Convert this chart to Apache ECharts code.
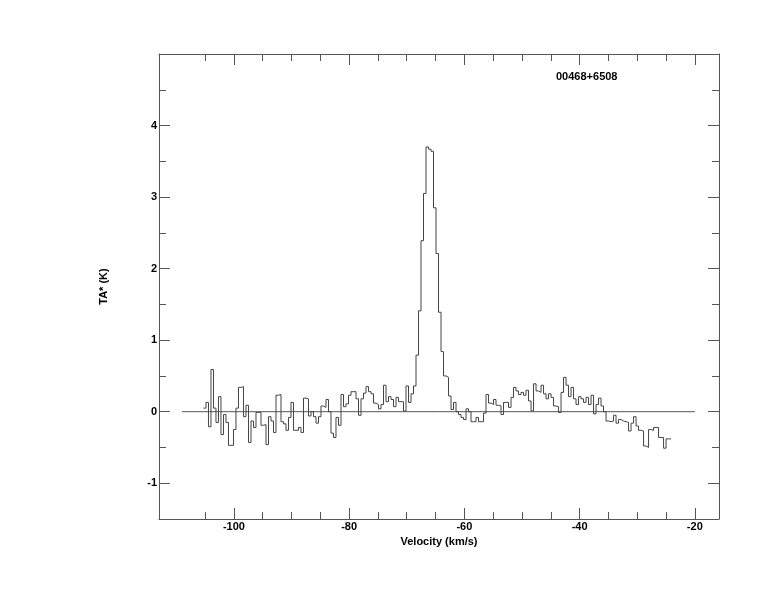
<!DOCTYPE html>
<html>
<head>
<meta charset="utf-8">
<script src="https://cdn.jsdelivr.net/npm/echarts@6/dist/echarts.min.js"></script>
<style>html,body{margin:0;padding:0;background:#fff;}#chart{width:774px;height:612px;}</style>
</head>
<body>
<div id="chart"></div>
<script>
// Spectrum data: antenna temperature per channel (K)
const sourceName = '00468+6508';
const velStart = -105.28;   // left edge of first channel (km/s)
const chanWidth = 0.434;    // channel width (km/s)
const ta = [
  0.05, 0.13, -0.21, 0.59, 0.05, -0.15, 0.21, -0.32, -0.04, -0.15,
  -0.47, -0.47, -0.25, 0.05, 0.34, 0.35, -0.07, 0.09, -0.43, -0.13,
  -0.22, -0.01, -0.01, -0.19, -0.18, -0.46, -0.07, -0.13, -0.29, 0.23,
  0.24, -0.14, -0.17, -0.26, -0.08, 0.13, -0.26, -0.26, -0.22, -0.29,
  0.19, 0.18, -0.06, 0.00, -0.07, -0.16, -0.07, 0.08, 0.06, 0.17,
  0.00, -0.30, -0.36, -0.08, -0.19, 0.24, 0.07, 0.11, 0.23, 0.28,
  0.28, 0.18, -0.05, 0.18, 0.26, 0.35, 0.28, 0.25, 0.12, 0.10,
  0.04, 0.10, 0.37, 0.14, 0.21, 0.17, 0.07, 0.20, 0.14, 0.14,
  0.01, 0.36, 0.13, 0.25, 0.36,
  0.79, 1.41, 2.39, 3.05, 3.70, 3.67, 3.64, 2.85, 2.21, 1.39, 0.84, 0.50, 0.48, 0.22,
  0.03, 0.13, 0.00, -0.04, -0.08, -0.11, 0.04, 0.00, -0.14, -0.14,
  -0.08, -0.14, -0.14, -0.02, 0.24, 0.12, 0.10, 0.17, 0.09, 0.08,
  -0.04, 0.13, 0.13, 0.06,
  0.20, 0.34, 0.29, 0.24, 0.27, 0.23, 0.30, 0.15, 0.01, 0.39,
  0.29, 0.27, 0.37, 0.25, 0.18, 0.25, 0.20, 0.08, 0.07, -0.01,
  0.27, 0.48, 0.37, 0.21, 0.34, 0.18, 0.10, 0.21, 0.18, 0.13,
  0.20, 0.10, 0.23, -0.03, 0.10, 0.19, 0.08, 0.00, -0.13, -0.14,
  -0.13, -0.05, -0.16, -0.11, -0.13, -0.14, -0.15, -0.27, -0.16, -0.07,
  -0.20, -0.26, -0.27,
  -0.48, -0.50, -0.25, -0.26, -0.22, -0.22, -0.36, -0.36, -0.51, -0.38, -0.38
];
const baselineX = [-109, -20];
const xMajorTicks = [-100, -80, -60, -40, -20];
const xMinorTicks = [-105, -95, -90, -85, -75, -70, -65, -55, -50, -45, -35, -30, -25];
const yMajorTicks = [-1, 0, 1, 2, 3, 4];
const yMinorTicks = [-0.5, 0.5, 1.5, 2.5, 3.5, 4.5];
const xRange = [-113.0, -15.8];
const yRange = [-1.5, 5];

const FONT = 'Liberation Sans';
const LINE = '#555';

const specData = ta.map((v, i) => [velStart + i * chanWidth, v]);
specData.push([velStart + ta.length * chanWidth, ta[ta.length - 1]]);

function xAx(pos, ticks, len, showLine, showLabel, name) {
  return {
    type: 'value', position: pos, min: xRange[0], max: xRange[1],
    axisLine: { show: showLine, onZero: false, lineStyle: { color: LINE, width: 1 } },
    axisTick: { show: true, inside: true, length: len, customValues: ticks, lineStyle: { color: LINE, width: 1 } },
    axisLabel: showLabel ? { show: true, customValues: ticks, margin: 2, color: '#000', fontFamily: FONT, fontWeight: 'bold', fontSize: 11 } : { show: false },
    splitLine: { show: false },
    name: name || '', nameLocation: 'middle', nameGap: 13,
    nameTextStyle: { color: '#000', fontFamily: FONT, fontWeight: 'bold', fontSize: 11 }
  };
}
function yAx(pos, ticks, len, showLine, showLabel, name) {
  return {
    type: 'value', position: pos, min: yRange[0], max: yRange[1],
    axisLine: { show: showLine, onZero: false, lineStyle: { color: LINE, width: 1 } },
    axisTick: { show: true, inside: true, length: len, customValues: ticks, lineStyle: { color: LINE, width: 1 } },
    axisLabel: showLabel ? { show: true, customValues: ticks, margin: 2, color: '#000', fontFamily: FONT, fontWeight: 'bold', fontSize: 11 } : { show: false },
    splitLine: { show: false },
    name: name || '', nameLocation: 'middle', nameGap: 50, nameRotate: 90,
    nameTextStyle: { color: '#000', fontFamily: FONT, fontWeight: 'bold', fontSize: 11 }
  };
}

const chart = echarts.init(document.getElementById('chart'), null, { renderer: 'canvas' });
chart.setOption({
  animation: false,
  backgroundColor: '#fff',
  title: {
    text: sourceName, left: 551, top: 66,
    textStyle: { color: '#000', fontFamily: FONT, fontWeight: 'bold', fontSize: 11 }
  },
  grid: { left: 159, right: 55, top: 54, bottom: 93 },
  xAxis: [
    xAx('bottom', xMajorTicks, 11, true, true, 'Velocity (km/s)'),
    xAx('bottom', xMinorTicks, 7, false, false),
    xAx('top', xMajorTicks, 11, true, false),
    xAx('top', xMinorTicks, 7, false, false)
  ],
  yAxis: [
    yAx('left', yMajorTicks, 11, true, true, 'TA* (K)'),
    yAx('left', yMinorTicks, 7, false, false),
    yAx('right', yMajorTicks, 11, true, false),
    yAx('right', yMinorTicks, 7, false, false)
  ],
  series: [
    {
      type: 'line', xAxisIndex: 0, yAxisIndex: 0,
      data: baselineX.map(x => [x, 0]),
      symbol: 'none', lineStyle: { color: LINE, width: 1 }
    },
    {
      type: 'line', xAxisIndex: 0, yAxisIndex: 0,
      data: specData, step: 'end',
      symbol: 'none', lineStyle: { color: '#444', width: 1 }
    }
  ]
});
</script>
</body>
</html>
